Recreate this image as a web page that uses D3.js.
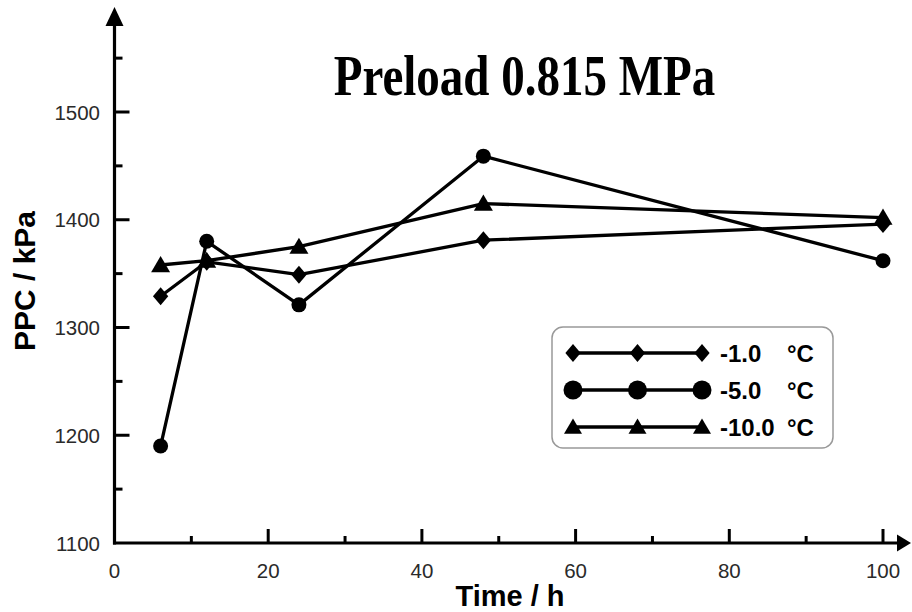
<!DOCTYPE html>
<html>
<head>
<meta charset="utf-8">
<script src="https://cdn.jsdelivr.net/npm/d3@7"></script>
<style>
  html, body { margin: 0; padding: 0; background: #fff; }
  svg { display: block; }
</style>
</head>
<body>
<svg id="chart" width="912" height="612"></svg>
<script>
// Sampling times (h)
const times = [6, 12, 24, 48, 100];
// Peak pull-out capacity (kPa) for each freezing temperature
const ppcMinus1 = [1329, 1361, 1349, 1381, 1396];
const ppcMinus5 = [1190, 1380, 1321, 1459, 1362];
const ppcMinus10 = [1358, 1362, 1375, 1415, 1402];
const seriesNames = ["-1.0", "-5.0", "-10.0"];
const seriesMarkers = ["diamond", "circle", "triangle"];
const xTicks = [0, 20, 40, 60, 80, 100];
const xMinorTicks = [10, 30, 50, 70, 90];
const yTicks = [1100, 1200, 1300, 1400, 1500];
const yMinorTicks = [1150, 1250, 1350, 1450, 1550];

const svg = d3.select("#chart");
const x = d3.scaleLinear().domain([0, 100]).range([114.5, 883]);
const y = d3.scaleLinear().domain([1100, 1500]).range([543, 112]);

const axisColor = "#000";
const g = svg.append("g");

// Axis lines with arrow heads
const xEnd = 899, yEnd = 24;
g.append("line").attr("x1", x(0) - 1.5).attr("x2", xEnd).attr("y1", y(1100)).attr("y2", y(1100))
  .attr("stroke", axisColor).attr("stroke-width", 3.2);
g.append("line").attr("x1", x(0)).attr("x2", x(0)).attr("y1", y(1100) + 1.5).attr("y2", yEnd)
  .attr("stroke", axisColor).attr("stroke-width", 3.2);
g.append("path")
  .attr("d", `M${xEnd - 2},${y(1100) - 8.5} L${xEnd + 12},${y(1100)} L${xEnd - 2},${y(1100) + 8.5} Z`)
  .attr("fill", axisColor);
g.append("path")
  .attr("d", `M${x(0) - 9},${yEnd + 2} L${x(0)},${yEnd - 17} L${x(0) + 9},${yEnd + 2} Z`)
  .attr("fill", axisColor);

// X ticks (pointing up into the plot)
g.selectAll(".xmaj").data(xTicks.filter(d => d > 0)).join("line")
  .attr("x1", d => x(d)).attr("x2", d => x(d))
  .attr("y1", y(1100)).attr("y2", y(1100) - 14)
  .attr("stroke", axisColor).attr("stroke-width", 3);
g.selectAll(".xmin").data(xMinorTicks).join("line")
  .attr("x1", d => x(d)).attr("x2", d => x(d))
  .attr("y1", y(1100)).attr("y2", y(1100) - 7)
  .attr("stroke", axisColor).attr("stroke-width", 3);
g.selectAll(".xlab").data(xTicks).join("text")
  .attr("x", d => x(d)).attr("y", 578)
  .attr("text-anchor", "middle")
  .attr("font-family", "Liberation Sans, Arial, sans-serif")
  .attr("font-size", 20.5).attr("fill", "#2a2a2a")
  .text(d => d);

// Y ticks (pointing right into the plot)
g.selectAll(".ymaj").data(yTicks.filter(d => d > 1100)).join("line")
  .attr("x1", x(0)).attr("x2", x(0) + 15)
  .attr("y1", d => y(d)).attr("y2", d => y(d))
  .attr("stroke", axisColor).attr("stroke-width", 3);
g.selectAll(".ymin").data(yMinorTicks).join("line")
  .attr("x1", x(0)).attr("x2", x(0) + 8)
  .attr("y1", d => y(d)).attr("y2", d => y(d))
  .attr("stroke", axisColor).attr("stroke-width", 3);
g.selectAll(".ylab").data(yTicks).join("text")
  .attr("x", 100).attr("y", d => y(d) + 7.5)
  .attr("text-anchor", "end")
  .attr("font-family", "Liberation Sans, Arial, sans-serif")
  .attr("font-size", 20.5).attr("fill", "#2a2a2a")
  .text(d => d);

// Axis titles
svg.append("text")
  .attr("x", 510).attr("y", 606)
  .attr("text-anchor", "middle")
  .attr("font-family", "Liberation Sans, Arial, sans-serif")
  .attr("font-weight", "bold").attr("font-size", 29)
  .text("Time / h");
svg.append("text")
  .attr("transform", "translate(35,281) rotate(-90)")
  .attr("text-anchor", "middle")
  .attr("font-family", "Liberation Sans, Arial, sans-serif")
  .attr("font-weight", "bold").attr("font-size", 30)
  .text("PPC / kPa");

// Chart title
svg.append("text")
  .attr("transform", "translate(524.5,95) scale(1,1.2)")
  .attr("text-anchor", "middle")
  .attr("font-family", "Liberation Serif, Times New Roman, serif")
  .attr("font-weight", "bold").attr("font-size", 47)
  .text("Preload 0.815 MPa");

// Marker shapes
function markerPath(type, s) {
  if (type === "diamond") return `M0,${-s} L${s * 0.85},0 L0,${s} L${-s * 0.85},0 Z`;
  if (type === "triangle") return `M0,${-s * 0.95} L${s},${s * 0.75} L${-s},${s * 0.75} Z`;
  return null;
}
function drawMarker(sel, type, cx, cy, s) {
  if (type === "circle") {
    sel.append("circle").attr("cx", cx).attr("cy", cy).attr("r", s).attr("fill", "#000");
  } else {
    sel.append("path").attr("d", markerPath(type, s))
      .attr("transform", `translate(${cx},${cy})`).attr("fill", "#000");
  }
}

const allSeries = [ppcMinus1, ppcMinus5, ppcMinus10];
const line = d3.line().x(d => x(d[0])).y(d => y(d[1]));
const plot = svg.append("g");
allSeries.forEach(vals => {
  const pts = times.map((t, j) => [t, vals[j]]);
  plot.append("path").datum(pts).attr("d", line)
    .attr("fill", "none").attr("stroke", "#000").attr("stroke-width", 3.3)
    .attr("stroke-linejoin", "round");
});
allSeries.forEach((vals, i) => {
  const size = seriesMarkers[i] === "circle" ? 7.5 : (seriesMarkers[i] === "triangle" ? 9.5 : 9);
  times.forEach((t, j) => drawMarker(plot, seriesMarkers[i], x(t), y(vals[j]), size));
});

// Legend
const leg = svg.append("g");
leg.append("rect").attr("x", 552).attr("y", 327).attr("width", 281).attr("height", 121)
  .attr("rx", 11).attr("fill", "#fff").attr("stroke", "#999").attr("stroke-width", 1.5);
const rowY = [353, 390, 427];
const textStyle = s => s
  .attr("font-family", "Liberation Sans, Arial, sans-serif")
  .attr("font-weight", "bold").attr("font-size", 24);
seriesNames.forEach((name, i) => {
  const ry = rowY[i];
  leg.append("line").attr("x1", 573).attr("x2", 702).attr("y1", ry).attr("y2", ry)
    .attr("stroke", "#000").attr("stroke-width", 3.3);
  const size = seriesMarkers[i] === "circle" ? 9.5 : 9;
  [573, 637.5, 702].forEach(mx => drawMarker(leg, seriesMarkers[i], mx, ry, size));
  leg.append("text").attr("x", 720).attr("y", ry + 8.5).call(textStyle).text(name);
  leg.append("text").attr("x", 787).attr("y", ry + 8.5).call(textStyle).text("°C");
});
</script>
</body>
</html>
